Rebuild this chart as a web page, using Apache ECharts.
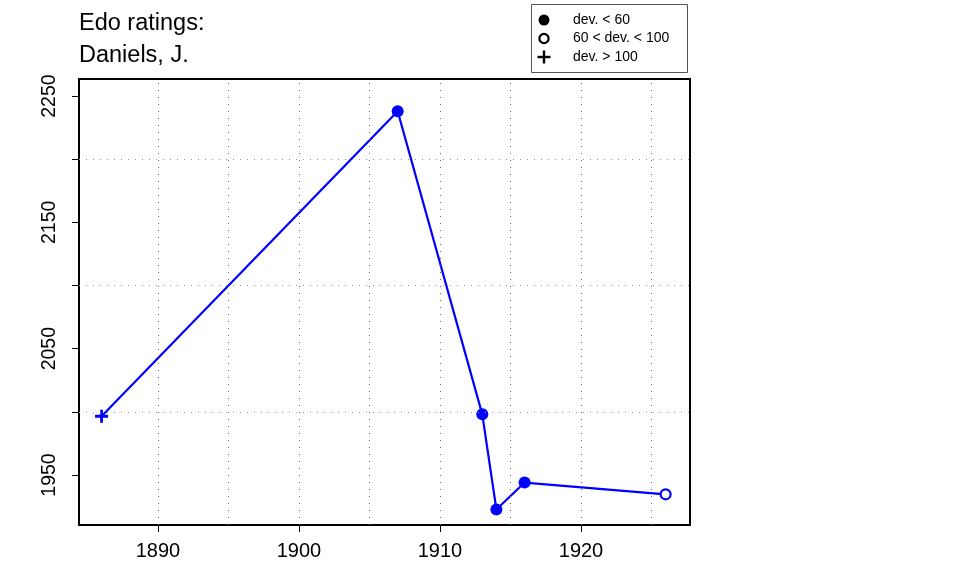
<!DOCTYPE html>
<html>
<head>
<meta charset="utf-8">
<script src="https://cdn.jsdelivr.net/npm/echarts@6/dist/echarts.min.js"></script>
<style>
html,body{margin:0;padding:0;background:#fff;}
#chart{width:960px;height:576px;}
</style>
</head>
<body>
<div id="chart"></div>
<script>
// ---- data ----
var titleLines = ['Edo ratings:', 'Daniels, J.'];
var years = [1886, 1907, 1913, 1914, 1916, 1926];
var ratings = [1996.5, 2238, 1998, 1922.7, 1944, 1934.7];
// deviation class per point: 0 = dev < 60, 1 = 60 < dev < 100, 2 = dev > 100
var devClass = [2, 0, 0, 0, 0, 1];
var legendLabels = ['dev. < 60', '60 < dev. < 100', 'dev. > 100'];
var xTickValues = [1890, 1900, 1910, 1920];
var xGridValues = [1890, 1895, 1900, 1905, 1910, 1915, 1920, 1925];
var yTickValues = [1950, 2000, 2050, 2100, 2150, 2200, 2250];
var yLabelValues = [1950, 2050, 2150, 2250];
var yGridValues = [2000, 2100, 2200];

var FONT = '"Liberation Sans", Arial, Helvetica, sans-serif';
var BLUE = '#0000ff';
var PLUS = 'path://M0,4.7H4.7V0H7.3V4.7H12V7.3H7.3V12H4.7V7.3H0Z';

function symbolFor(c) {
  if (c === 0) return {symbol: 'circle', symbolSize: 12, itemStyle: {color: BLUE, borderWidth: 0}};
  if (c === 1) return {symbol: 'circle', symbolSize: 10, itemStyle: {color: '#fff', borderColor: BLUE, borderWidth: 2.2}};
  return {symbol: PLUS, symbolSize: 13, itemStyle: {color: BLUE, borderWidth: 0}};
}

var seriesData = years.map(function (y, i) {
  var s = symbolFor(devClass[i]);
  return {value: [y, ratings[i]], symbol: s.symbol, symbolSize: s.symbolSize, itemStyle: s.itemStyle};
});

var gridMarks = xGridValues.map(function (v) {
  return {xAxis: v, lineStyle: {color: '#666', type: [1, 6], width: 1}};
}).concat(yGridValues.map(function (v) {
  return {yAxis: v, lineStyle: {color: '#999', type: [1, 6], width: 1}};
}));

// legend graphics
var legendRowsY = [20, 38.5, 57];
var legendSyms = [
  {type: 'circle', shape: {r: 5.5}, style: {fill: '#000'}},
  {type: 'circle', shape: {r: 4.6}, style: {fill: '#fff', stroke: '#000', lineWidth: 2.2}},
  {type: 'group', children: [
    {type: 'rect', shape: {x: -6.5, y: -1.2, width: 13, height: 2.4}, style: {fill: '#000'}},
    {type: 'rect', shape: {x: -1.2, y: -6.5, width: 2.4, height: 13}, style: {fill: '#000'}}
  ]}
];
var legendGraphics = [{
  type: 'rect', left: 531, top: 4,
  shape: {width: 156, height: 68},
  style: {fill: '#fff', stroke: '#555', lineWidth: 1}
}];
legendLabels.forEach(function (lab, i) {
  var sym = legendSyms[i];
  sym.x = 544; sym.y = legendRowsY[i];
  legendGraphics.push(sym);
  legendGraphics.push({
    type: 'text', x: 573, y: legendRowsY[i],
    style: {text: lab, fill: '#000', font: '14px ' + FONT, verticalAlign: 'middle'}
  });
});

var chart = echarts.init(document.getElementById('chart'), null, {renderer: 'canvas'});
chart.setOption({
  animation: false,
  backgroundColor: '#fff',
  title: {
    text: titleLines.join('\n'),
    left: 79, top: 8, padding: 0,
    textStyle: {fontFamily: FONT, fontSize: 23.5, fontWeight: 'normal', color: '#000', lineHeight: 32}
  },
  grid: {
    left: 79, right: 270, top: 79, bottom: 51,
    show: true, borderColor: '#000', borderWidth: 2, backgroundColor: 'transparent'
  },
  xAxis: {
    type: 'value', min: 1884.4, max: 1927.73,
    axisLine: {show: false},
    splitLine: {show: false},
    axisTick: {show: true, length: 7, lineStyle: {color: '#000', width: 1}, customValues: xTickValues},
    axisLabel: {show: true, customValues: xTickValues, margin: 16, fontFamily: FONT, fontSize: 20, color: '#000',
      formatter: function (v) { return String(v); }}
  },
  yAxis: {
    type: 'value', min: 1910.4, max: 2263.5,
    axisLine: {show: false},
    splitLine: {show: false},
    axisTick: {show: true, length: 7, lineStyle: {color: '#000', width: 1}, customValues: yTickValues},
    axisLabel: {show: true, customValues: yLabelValues, rotate: 90, margin: 19, fontFamily: FONT, fontSize: 19.5, color: '#000',
      formatter: function (v) { return String(v); }}
  },
  series: [{
    type: 'line',
    data: seriesData,
    lineStyle: {color: BLUE, width: 2.2},
    itemStyle: {color: BLUE},
    z: 3,
    markLine: {
      silent: true, symbol: 'none', animation: false,
      label: {show: false},
      emphasis: {disabled: true},
      data: gridMarks
    }
  }],
  graphic: legendGraphics
});
</script>
</body>
</html>
